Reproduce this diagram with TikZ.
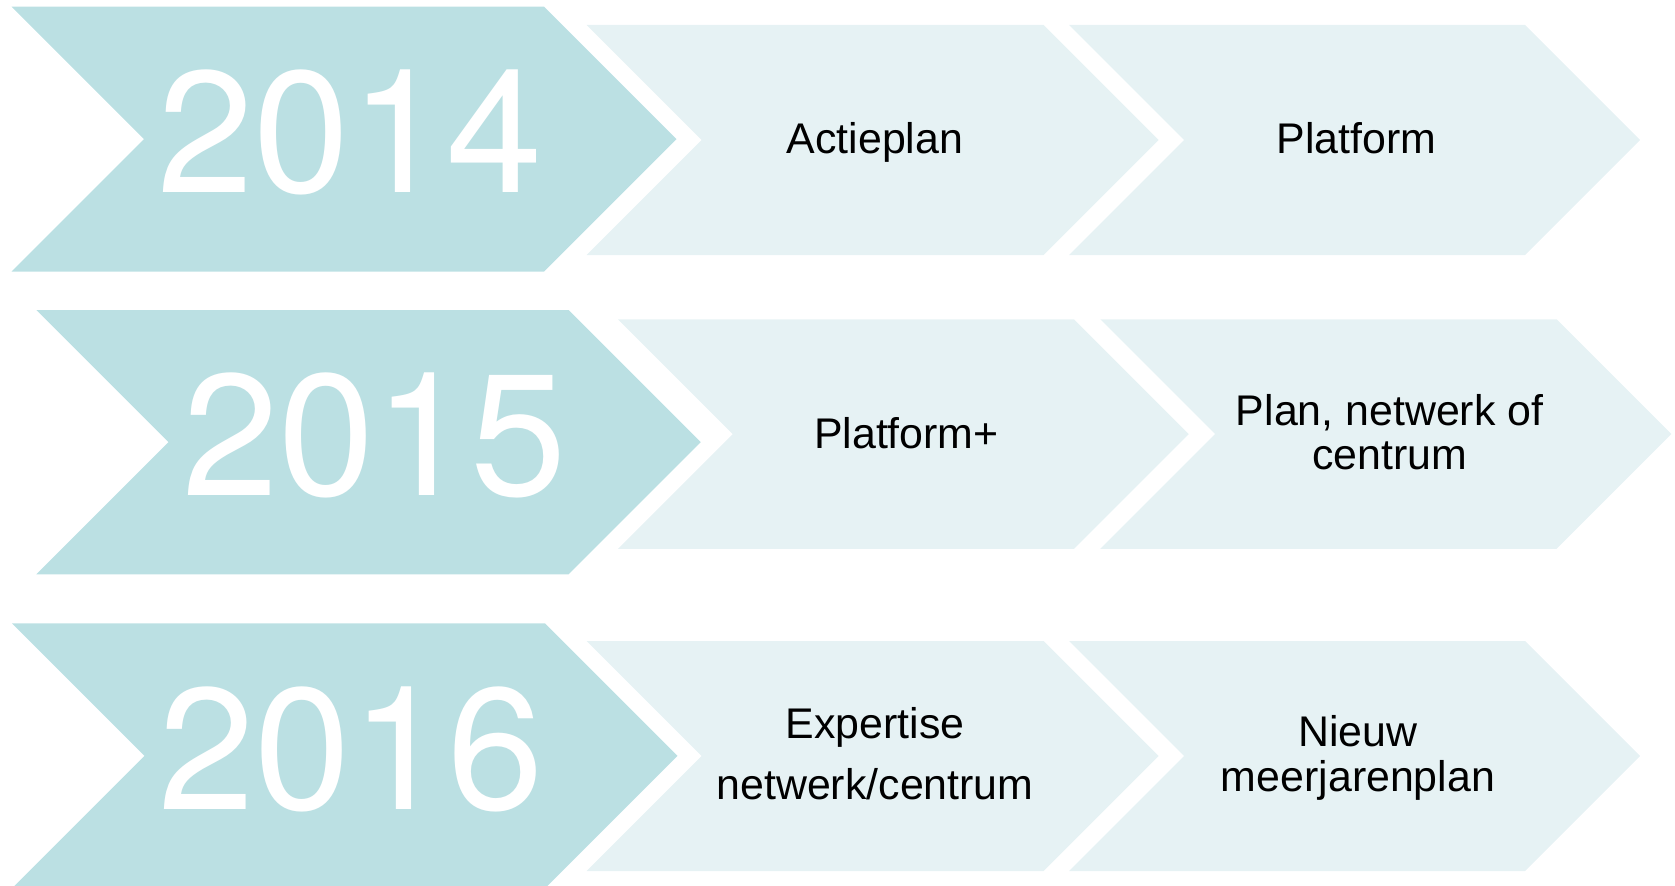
\documentclass[tikz,border=0pt]{standalone}
\usepackage{fontspec}
\setmainfont{Liberation Sans}
\newfontfamily\yearfont{TeX Gyre Heros}

\definecolor{yearteal}{RGB}{187,224,227}
\definecolor{stepteal}{RGB}{230,242,244}

% chevron: style, left x, top y, body width, height
\newcommand{\chevron}[5]{%
  \fill[#1] (#2,#3) -- ++(#4,0) -- ++({#5/2},{#5/2}) -- ++({-#5/2},{#5/2})
    -- ++(-#4,0) -- ++({#5/2},{-#5/2}) -- cycle;}

\begin{document}
\begin{tikzpicture}[x=0.2mm, y=-0.2mm,
		yearfill/.style={fill=yearteal},
		stepfill/.style={fill=stepteal},
		yearlabel/.style={anchor=base, inner sep=0pt, text=white,
			font=\yearfont\fontsize{98.5}{100}\selectfont},
		steplabel/.style={anchor=base, inner sep=0pt, align=center,
			font=\fontsize{24.4}{24.5}\selectfont}]
		\useasboundingbox (0,0) rectangle (1675,886);
		
		% 2014
		\chevron{yearfill}{11.5}{6.7}{532.5}{265}
		\chevron{stepfill}{586.5}{25}{457}{230}
		\chevron{stepfill}{1069}{25}{456}{230}
		\node[yearlabel] (y14) at (350,192.7) {2014};
		\node[steplabel] (s14a) at (875,153) {Actieplan};
		\node[steplabel] (s14b) at (1356.6,153) {Platform};
		
		% 2015
		\chevron{yearfill}{36.4}{310}{532.2}{264.3}
		\chevron{stepfill}{618}{319.3}{456}{229.5}
		\chevron{stepfill}{1100.3}{319.3}{456.3}{229.5}
		\node[yearlabel] (y15) at (374.6,495.7) {2015};
		\node[steplabel] (s15a) at (906.4,448.3) {Platform+};
		% multi-line: base is the last line
		\node[steplabel] (s15b) at (1389.6,469) {Plan, netwerk of\\centrum};
		
		% 2016
		\chevron{yearfill}{12}{623.3}{533}{265}
		\chevron{stepfill}{586.5}{641}{457}{230}
		\chevron{stepfill}{1069}{641}{456}{230}
		\node[yearlabel] (y16) at (351,809) {2016};
		\node[steplabel, font=\fontsize{24.4}{34.7}\selectfont] (s16a) at (875,799) {Expertise\\netwerk/centrum};
		\node[steplabel, font=\fontsize{24.4}{25.6}\selectfont] (s16b) at (1358,791) {Nieuw\\meerjarenplan};
		
\end{tikzpicture}
\end{document}
